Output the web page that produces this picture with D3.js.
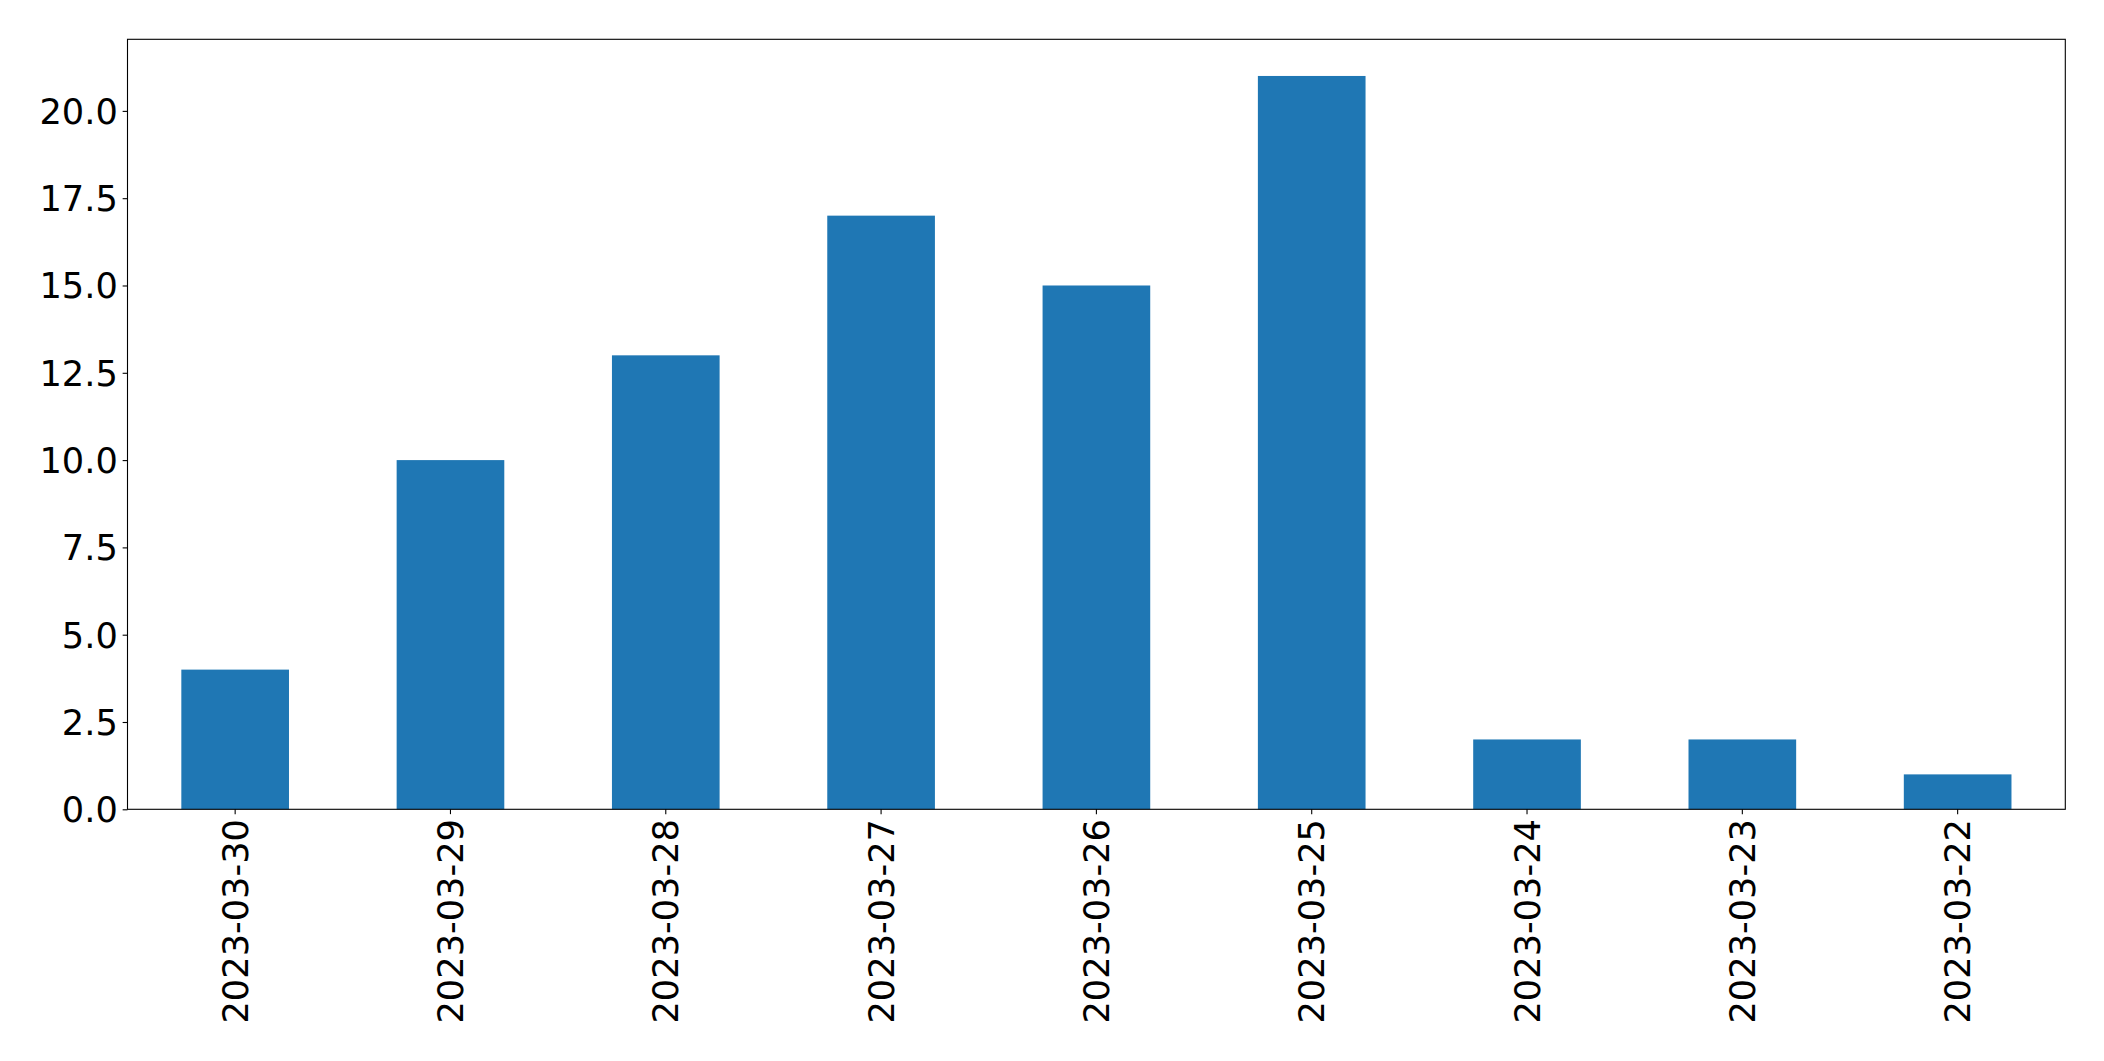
<!DOCTYPE html>
<html><head><meta charset="utf-8">
<script src="https://cdn.jsdelivr.net/npm/d3@7"></script>
<style>body{margin:0;background:#fff}svg{display:block}</style>
</head><body>
<svg id="c" width="2104" height="1061"></svg>
<script>
const categories = ["2023-03-30","2023-03-29","2023-03-28","2023-03-27","2023-03-26","2023-03-25","2023-03-24","2023-03-23","2023-03-22"];
const values = [4, 10, 13, 17, 15, 21, 2, 2, 1];
const yTicks = [0, 2.5, 5, 7.5, 10, 12.5, 15, 17.5, 20];

const W = 2104, H = 1061;
const L = 127.5, R = 2065.3, T = 39.3, B = 809.3;
const fs = 35.2, tickLen = 4.86, pad = 4.86;
const svg = d3.select("#c");

const x = d3.scaleBand().domain(categories).range([L, R]).paddingInner(0.5).paddingOuter(0.25);
const y = d3.scaleLinear().domain([0, d3.max(values) * 1.05]).range([B, T]);

svg.append("g").selectAll("rect").data(values).join("rect")
  .attr("x", (d, i) => x(categories[i]))
  .attr("width", x.bandwidth())
  .attr("y", d => y(d))
  .attr("height", d => B - y(d))
  .attr("fill", "#1f77b4");

const font = "'DejaVu Sans', sans-serif";

const ya = svg.append("g").attr("transform", `translate(${L},0)`)
  .call(d3.axisLeft(y).tickValues(yTicks).tickFormat(d3.format(".1f")).tickSize(tickLen).tickPadding(pad));
ya.select(".domain").remove();
ya.selectAll("line").attr("stroke", "#000").attr("stroke-width", 1.1);
ya.selectAll("text").attr("font-family", font).attr("font-size", fs).attr("fill", "#000").attr("dy", "0.35em");

const xa = svg.append("g").attr("transform", `translate(0,${B})`)
  .call(d3.axisBottom(x).tickSize(tickLen).tickPadding(pad));
xa.select(".domain").remove();
xa.selectAll("line").attr("stroke", "#000").attr("stroke-width", 1.1);
xa.selectAll("text").attr("font-family", font).attr("font-size", fs).attr("fill", "#000")
  .attr("text-anchor", "end").attr("dy", null).attr("dominant-baseline", "central")
  .attr("transform", `translate(0,${tickLen + pad}) rotate(-90)`).attr("y", 0).attr("x", 0);

svg.append("rect").attr("x", L).attr("y", T).attr("width", R - L).attr("height", B - T)
  .attr("fill", "none").attr("stroke", "#000").attr("stroke-width", 1.1);
</script>
</body></html>
